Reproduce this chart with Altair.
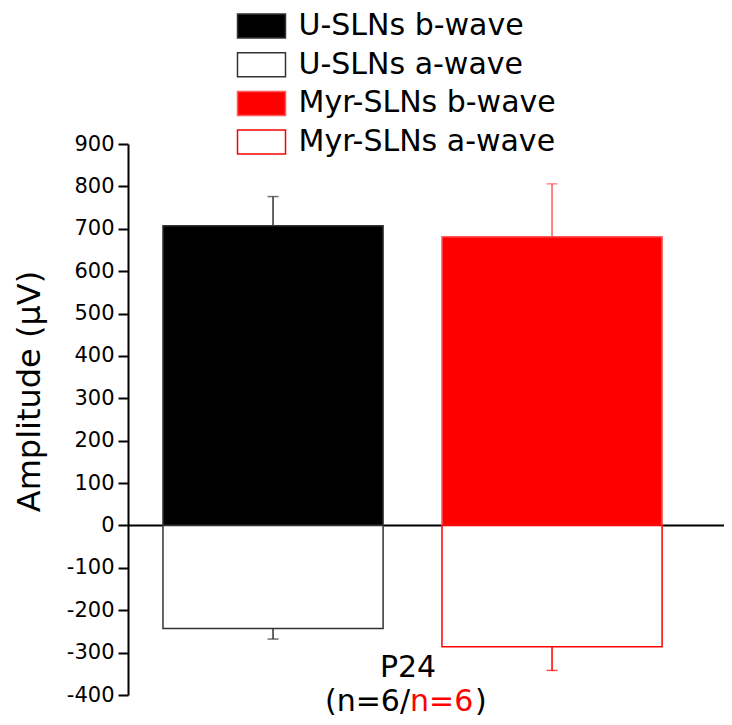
import altair as alt
import pandas as pd

# ---- data ----
groups = ["U-SLNs", "Myr-SLNs"]
series_labels = ["U-SLNs b-wave", "U-SLNs a-wave", "Myr-SLNs b-wave", "Myr-SLNs a-wave"]
series_group = ["U-SLNs", "U-SLNs", "Myr-SLNs", "Myr-SLNs"]
amplitudes = [707, -243, 681, -286]
error_ends = [776, -268, 806, -342]
y_ticks = list(range(-400, 901, 50))
age_label = ["P24"]
n_left = ["(n=6/"]
n_right = ["n=6"]
n_close = [")"]

# ---- styles ----
fills = ["#000000", "#ffffff", "#ff0000", "#ffffff"]
strokes = ["#333333", "#333333", "#ff5a5a", "#ff0000"]
FONT = "DejaVu Sans"
W, H = 596, 551

df = pd.DataFrame({"series": series_labels, "group": series_group,
                   "value": amplitudes, "err": error_ends})

xenc = alt.X("group:N", sort=groups, axis=None,
             scale=alt.Scale(paddingInner=0.211, paddingOuter=0.1736, align=0.361))
yscale = alt.Scale(domain=[-400, 900], nice=False, zero=False)

legend = alt.Legend(
    title=None, orient="none", legendX=118.5, legendY=-133, padding=0,
    symbolType="M-2,-1H2V1H-2Z", symbolSize=576, symbolStrokeWidth=1.5,
    labelFont=FONT, labelFontSize=30, labelColor="black", labelOffset=22,
    labelLimit=0, rowPadding=8.7,
)

fill_scale = alt.Scale(domain=series_labels, range=fills)
stroke_scale = alt.Scale(domain=series_labels, range=strokes)

yaxis = alt.Axis(
    values=y_ticks,
    labelExpr="datum.value % 100 === 0 ? '' + datum.value : ''",
    tickSize={"condition": {"test": "datum.value % 100 === 0", "value": 10}, "value": 5},
    grid=False, domainColor="black", domainWidth=2, tickColor="black", tickWidth=2,
    labelFont=FONT, labelFontSize=21, labelColor="black", labelPadding=4,
    title="Amplitude (μV)", titleFont=FONT, titleFontSize=32, titleFontWeight="normal",
    titleColor="black", titleX=-89, titleY=247, titleBaseline="alphabetic",
)

base = alt.Chart(df)

zero_line = alt.Chart(pd.DataFrame({"z": [0]})).mark_rule(color="black", strokeWidth=2).encode(
    y=alt.Y("z:Q", scale=yscale, axis=yaxis), x=alt.value(0), x2=alt.value(W)
)

err_rules = base.mark_rule(strokeWidth=1.5).encode(
    x=xenc, y=alt.Y("value:Q", scale=yscale), y2="err:Q",
    stroke=alt.Stroke("series:N", scale=stroke_scale, legend=legend),
)

bars = base.mark_bar(strokeWidth=1.5).encode(
    x=xenc, y=alt.Y("value:Q", scale=yscale),
    fill=alt.Fill("series:N", scale=fill_scale, legend=legend),
    stroke=alt.Stroke("series:N", scale=stroke_scale, legend=legend),
)

caps = base.mark_tick(size=11, thickness=1.5).encode(
    x=xenc, y=alt.Y("err:Q", scale=yscale),
    color=alt.Color("series:N", scale=alt.Scale(domain=series_labels, range=strokes), legend=None),
)

txt_p24 = alt.Chart(pd.DataFrame({"t": age_label})).mark_text(
    font=FONT, fontSize=30, color="black", align="center", baseline="alphabetic"
).encode(text="t:N", x=alt.value(280), y=alt.value(533))

txt_l = alt.Chart(pd.DataFrame({"t": n_left})).mark_text(
    font=FONT, fontSize=30, color="black", align="right", baseline="alphabetic"
).encode(text="t:N", x=alt.value(282), y=alt.value(567))

txt_r = alt.Chart(pd.DataFrame({"t": n_right})).mark_text(
    font=FONT, fontSize=30, color="#ff0000", align="left", baseline="alphabetic"
).encode(text="t:N", x=alt.value(282), y=alt.value(567))

txt_c = alt.Chart(pd.DataFrame({"t": n_close})).mark_text(
    font=FONT, fontSize=30, color="black", align="left", baseline="alphabetic"
).encode(text="t:N", x=alt.value(347), y=alt.value(567))

chart = alt.layer(zero_line, err_rules, bars, caps, txt_p24, txt_l, txt_r, txt_c).properties(
    width=W, height=H,
    autosize=alt.AutoSizeParams(type="none"),
    padding={"left": 120, "top": 136, "right": 0, "bottom": 22},
).configure_view(stroke=None)

chart.save("out.html", embed_options={"renderer": "svg", "actions": False})
